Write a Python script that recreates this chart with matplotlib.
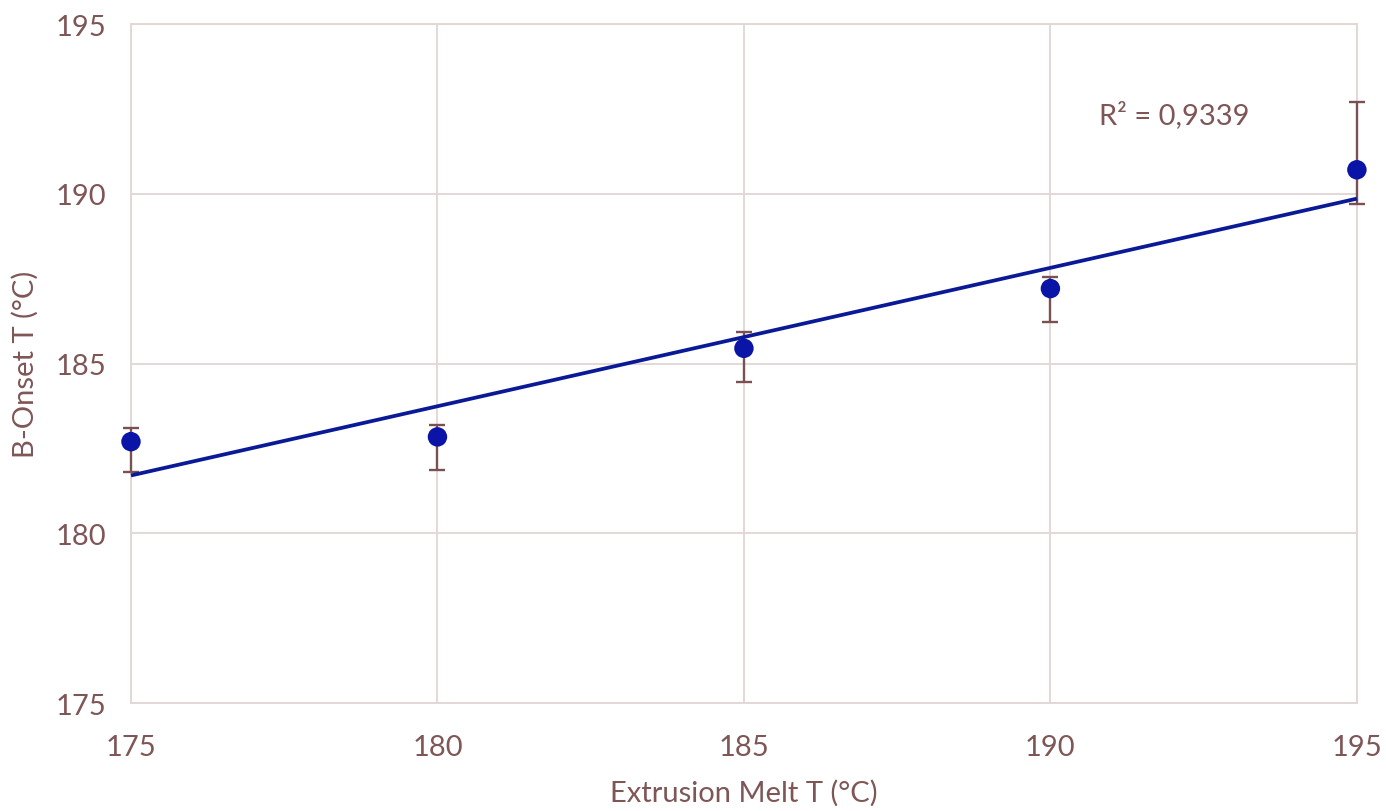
import numpy as np
import matplotlib
matplotlib.use("Agg")
import matplotlib.pyplot as plt
from matplotlib import patheffects as pe

melt_T = [175, 180, 185, 190, 195]
onset_T = [182.70, 182.84, 185.45, 187.21, 190.71]
err_upper = [183.10, 183.20, 185.94, 187.54, 192.71]
err_lower = [181.80, 181.86, 184.46, 186.24, 189.70]
r2_label = "R² = 0,9339"
x_ticks = [175, 180, 185, 190, 195]
y_ticks = [175, 180, 185, 190, 195]

txt = "#7f5656"
grid_c = "#e2d6d6"
plt.rcParams['font.family'] = ['Lato', 'DejaVu Sans']

fig = plt.figure(figsize=(13.86, 8.12), dpi=100)
ax = fig.add_axes([0.0945, 0.133, 0.8845, 0.836])

x = np.array(melt_T)
y = np.array(onset_T)
yerr = np.vstack([y - np.array(err_lower), np.array(err_upper) - y])

eb = ax.errorbar(x, y, yerr=yerr, fmt='none', ecolor="#7a5050", elinewidth=1.7,
                 capsize=6, capthick=1.7, zorder=3)
for art in eb.lines[1] + eb.lines[2]:
    art.set_clip_on(False)
for art in eb.lines[2]:
    art.set_clip_on(False)

coef = np.polyfit(x, y, 1)
xl = np.array([min(melt_T), max(melt_T)])
ax.plot(xl, np.polyval(coef, xl), color="#0a1a96", lw=2.7, zorder=4,
        solid_capstyle='butt', clip_on=False)

ax.plot(x, y, 'o', color="#0a14a6", markersize=14, markeredgewidth=0, zorder=5,
        clip_on=False,
        path_effects=[pe.SimpleLineShadow(offset=(2.5, -2.5), shadow_color='k', alpha=0.3), pe.Normal()])

ax.text(190.8, 192.35, r2_label, color=txt, fontsize=21, va='center', ha='left')

ax.set_xlim(175, 195)
ax.set_ylim(175, 195)
ax.set_xticks(x_ticks)
ax.set_yticks(y_ticks)
ax.grid(True, color=grid_c, lw=1.3)
ax.set_axisbelow(True)
for s in ax.spines.values():
    s.set_color(grid_c)
    s.set_linewidth(1.3)
ax.tick_params(length=0, labelsize=21, labelcolor=txt)
ax.tick_params(axis='x', pad=22)
ax.tick_params(axis='y', pad=18)
ax.set_xlabel("Extrusion Melt T (°C)", color=txt, fontsize=21, labelpad=14)
ax.set_ylabel("B-Onset T (°C)", color=txt, fontsize=21, labelpad=12)

fig.savefig("out.png", dpi=100)
